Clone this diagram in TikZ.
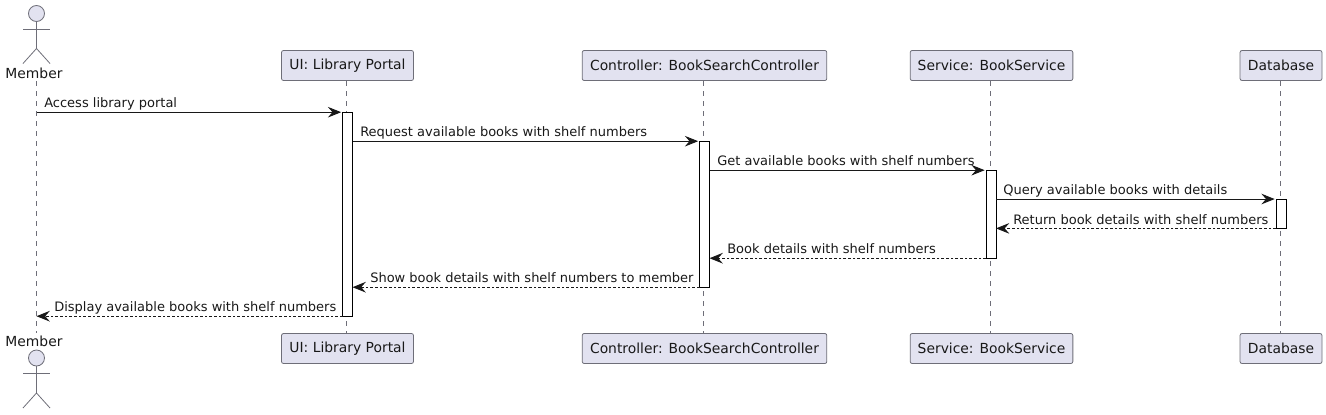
\documentclass[tikz,border=0pt]{standalone}
\usepackage{fontspec}
\setmainfont{DejaVu Sans}
\usetikzlibrary{arrows.meta}
\definecolor{partfill}{HTML}{E2E2F0}
\definecolor{partline}{HTML}{6E6E78}
\definecolor{inkline}{HTML}{181818}
\tikzset{
  part/.style={rectangle, rounded corners=1.5pt, draw=partline, fill=partfill, line width=0.6pt, minimum height=22.5pt, inner sep=0pt, text=inkline, font=\fontsize{10.4pt}{12pt}\selectfont},
  msgtext/.style={anchor=base west, inner sep=0pt, text=inkline, font=\fontsize{9.75pt}{12pt}\selectfont},
  actortext/.style={inner sep=0pt, text=inkline, font=\fontsize{10.4pt}{12pt}\selectfont},
  activation/.style={rectangle, draw=black, fill=white, line width=0.75pt, minimum width=7.5pt, inner sep=0pt, outer sep=0pt},
  lifeline/.style={draw=partline, line width=0.5pt, dash pattern=on 3.75pt off 3.75pt},
  call/.style={draw=inkline, line width=0.75pt, shorten >=1pt, -{Stealth[length=10pt, width=8pt, inset=3.5pt]}},
  reply/.style={draw=inkline, line width=0.75pt, dash pattern=on 2pt off 1.5pt, -{Stealth[length=10pt, width=8pt, inset=3.5pt]}},
  stick/.style={draw=partline, line width=0.6pt}
}
\newcommand{\stickman}[1]{% head centre at (36.5,#1)
  \draw[stick, fill=partfill] (36.5,#1) circle (8);
  \draw[stick] (36.5,#1+8) -- (36.5,#1+35) (23,#1+15.5) -- (50,#1+15.5);
  \draw[stick] (23,#1+50) -- (36.5,#1+35) -- (50,#1+50);
}
\begin{document}
\begin{tikzpicture}[x=0.75pt, y=-0.75pt]
  \useasboundingbox (0,0) rectangle (1326,414);

  % lifelines first
  \coordinate (membertop) at (36.5,81);
  \coordinate (memberend) at (36.5,333);
  \draw[lifeline] (membertop) -- (memberend);
  \foreach \n/\x in {ui/346.5, ctrl/703.5, serv/990.5, db/1280.5} {
    \coordinate (\n top) at (\x,81);
    \coordinate (\n end) at (\x,333);
    \draw[lifeline] (\n top) -- (\n end);
  }

  % participants
  \foreach \s/\y in {a/65.5, b/348.5} {
    \node[part, minimum width=99pt] (ui\s) at (347.5,\y) {UI: Library Portal};
    \node[part, minimum width=183.5pt] (ctrl\s) at (704.5,\y) {Controller: BookSearchController};
    \node[part, minimum width=122pt] (serv\s) at (991.5,\y) {Service: BookService};
    \node[part, minimum width=61.5pt] (db\s) at (1281,\y) {Database};
  }

  % actor
  \stickman{13.5}
  \stickman{358}
  \node[actortext] (membera) at (34,73) {Member};
  \node[actortext] (memberb) at (34,341) {Member};

  % activations
  \node[activation, minimum height=153pt] (uiact) at (347.5,214.2) {};
  \node[activation, minimum height=109.5pt] (ctrlact) at (704.5,214.2) {};
  \node[activation, minimum height=66pt] (servact) at (991,214.2) {};
  \node[activation, minimum height=22pt] (dbact) at (1281,213.7) {};

  % messages
  \draw[call] (membertop |- uiact.north) -- (uiact.north west);
  \draw[call] (uiact.east |- ctrlact.north) -- (ctrlact.north west);
  \draw[call] (ctrlact.east |- servact.north) -- (servact.north west);
  \draw[call] (servact.east |- dbact.north) -- (dbact.north west);
  \draw[reply] (dbact.south west) -- (servact.east |- dbact.south);
  \draw[reply] (servact.south west) -- (ctrlact.east |- servact.south);
  \draw[reply] (ctrlact.south west) -- (uiact.east |- ctrlact.south);
  \draw[reply] (uiact.south west) -- (memberend |- uiact.south);

  \node[msgtext] (t1) at (44,107) {Access library portal};
  \node[msgtext] (t2) at (360,136) {Request available books with shelf numbers};
  \node[msgtext] (t3) at (717,165) {Get available books with shelf numbers};
  \node[msgtext] (t4) at (1003,194.5) {Query available books with details};
  \node[msgtext] (t5) at (1013,224) {Return book details with shelf numbers};
  \node[msgtext] (t6) at (727,253) {Book details with shelf numbers};
  \node[msgtext] (t7) at (370,282) {Show book details with shelf numbers to member};
  \node[msgtext] (t8) at (54,311) {Display available books with shelf numbers};
\end{tikzpicture}
\end{document}
